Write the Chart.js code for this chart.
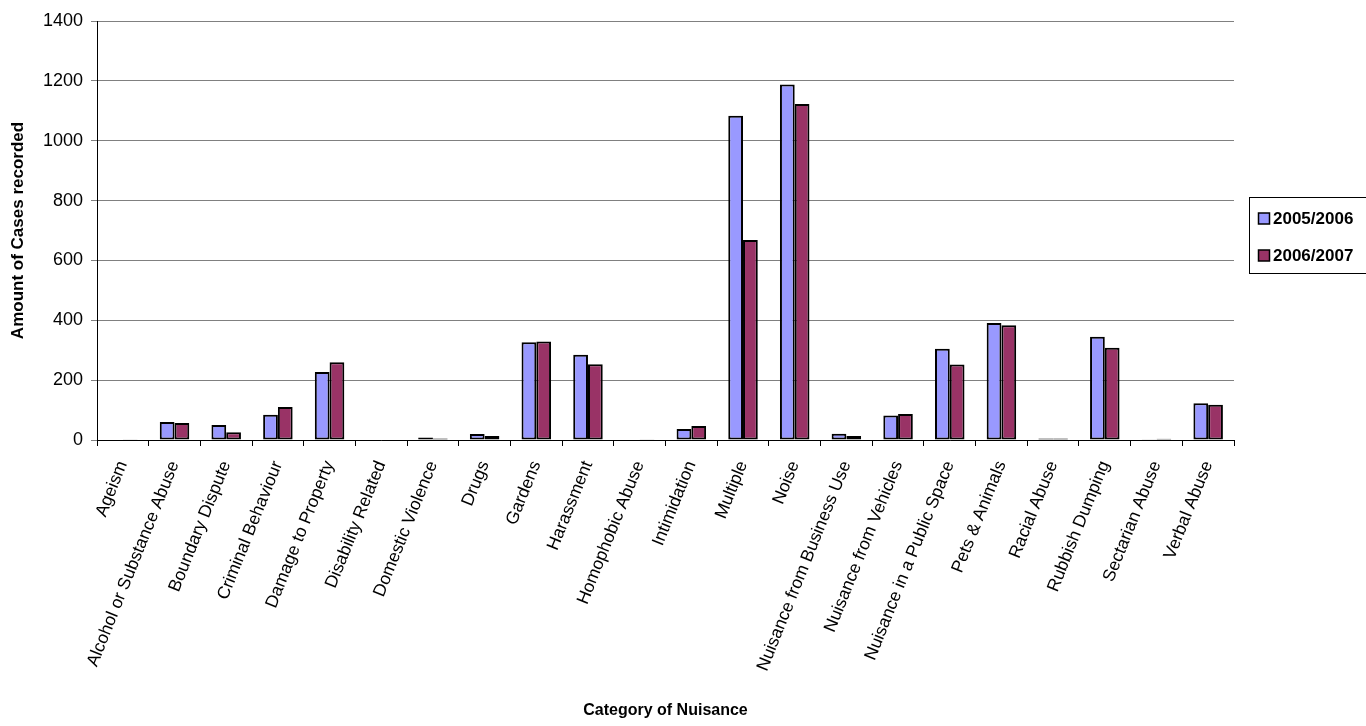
<!DOCTYPE html>
<html>
<head>
<meta charset="utf-8">
<title>Category of Nuisance</title>
<script src="https://cdn.jsdelivr.net/npm/chart.js@4/dist/chart.umd.min.js"></script>
<style>
    html, body { margin: 0; padding: 0; background: #fff; }
    #wrap { width: 1366px; height: 726px; }
</style>
</head>
<body>
<div id="wrap"><canvas id="nuisanceChart" width="1366" height="726"></canvas></div>
<script>
// ===== DATA =====
const categories = [
    'Ageism', 'Alcohol or Substance Abuse', 'Boundary Dispute', 'Criminal Behaviour',
    'Damage to Property', 'Disability Related', 'Domestic Violence', 'Drugs', 'Gardens',
    'Harassment', 'Homophobic Abuse', 'Intimidation', 'Multiple', 'Noise',
    'Nuisance from Business Use', 'Nuisance from Vehicles', 'Nuisance in a Public Space',
    'Pets & Animals', 'Racial Abuse', 'Rubbish Dumping', 'Sectarian Abuse', 'Verbal Abuse'
];
const cases2005 = [2, 60, 50, 84, 227, 0, 8, 20, 327, 285, 2, 37, 1083, 1188, 21, 82, 305, 391, 5, 345, 1, 123];
const cases2006 = [1, 57, 26, 110, 260, 0, 5, 13, 329, 253, 1, 47, 668, 1123, 13, 87, 252, 383, 5, 308, 4, 118];
const seriesNames = ['2005/2006', '2006/2007'];
const yTicks = [0, 200, 400, 600, 800, 1000, 1200, 1400];

const FONT = '"Liberation Sans", Arial, sans-serif';

// legend drawn as a boxed panel, like the spreadsheet original
const boxedLegend = {
    id: 'boxedLegend',
    afterDraw(chart) {
        const ctx = chart.ctx;
        const x = 1249, y = 197, w = 130, h = 76;
        ctx.save();
        ctx.strokeStyle = '#000';
        ctx.lineWidth = 1;
        ctx.strokeRect(x + 0.5, y + 0.5, w, h);
        ctx.font = 'bold 17px ' + FONT;
        ctx.textBaseline = 'middle';
        chart.data.datasets.forEach((ds, i) => {
            const cy = y + 21 + i * 37;
            ctx.fillStyle = ds.backgroundColor;
            ctx.fillRect(x + 9, cy - 5, 11, 11);
            ctx.lineWidth = 1.5;
            ctx.strokeRect(x + 9.5, cy - 5, 11, 11);
            ctx.fillStyle = '#000';
            ctx.fillText(ds.label, x + 24, cy + 1);
        });
        ctx.restore();
    }
};

new Chart(document.getElementById('nuisanceChart').getContext('2d'), {
    type: 'bar',
    data: {
        labels: categories,
        datasets: [
            { label: seriesNames[0], data: cases2005, backgroundColor: '#9999FF', borderColor: '#000', borderWidth: 2, borderSkipped: false },
            { label: seriesNames[1], data: cases2006, backgroundColor: '#993366', borderColor: '#000', borderWidth: 2, borderSkipped: false },
        ]
    },
    options: {
        responsive: false,
        animation: false,
        layout: { padding: { left: 0, top: 21, right: 132, bottom: 0 } },
        datasets: { bar: { categoryPercentage: 0.571, barPercentage: 1.0 } },
        plugins: { legend: { display: false }, tooltip: { enabled: false } },
        scales: {
            y: {
                min: 0, max: 1400,
                afterBuildTicks: (scale) => { scale.ticks = yTicks.map(v => ({ value: v })); },
                afterFit: (scale) => { scale.width = 97; },
                grid: { color: '#808080', lineWidth: 1, tickLength: 6 },
                border: { color: '#000', width: 1 },
                ticks: {
                    color: '#000', font: { family: FONT, size: 18 }, padding: 8,
                    callback: (v) => String(v)
                },
                title: {
                    display: true, text: 'Amount of Cases recorded', color: '#000',
                    font: { family: FONT, size: 17, weight: 'bold' }, padding: { top: 8, bottom: 0 }
                }
            },
            x: {
                afterFit: (scale) => { scale.height = 726 - 440; },
                grid: { drawOnChartArea: false, color: '#000', tickLength: 6, offset: true },
                border: { color: '#000', width: 1 },
                ticks: {
                    color: '#000', font: { family: FONT, size: 17.5 }, padding: 12,
                    autoSkip: false, minRotation: 68, maxRotation: 68
                },
                title: {
                    display: true, text: 'Category of Nuisance', color: '#000',
                    font: { family: FONT, size: 16, weight: 'bold' }, padding: { top: 0, bottom: 6 }
                }
            }
        }
    },
    plugins: [boxedLegend]
});
</script>
</body>
</html>
